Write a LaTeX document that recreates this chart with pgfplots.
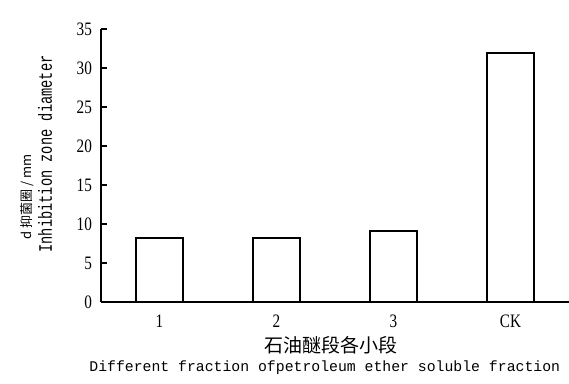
\documentclass[border=0pt]{standalone}
\usepackage{pgfplots}
\pgfplotsset{compat=1.18}
\usepackage{fontspec}
\setmainfont{Liberation Serif}
\newfontfamily\condserif[FakeStretch=0.8]{Liberation Serif}
\newfontfamily\condmono[FakeStretch=0.72]{Liberation Mono}
\newfontfamily\monof{Liberation Mono}
\newfontfamily\cjk{Noto Sans CJK SC}
\begin{document}
\begin{tikzpicture}
\path[use as bounding box] (-50.5pt,-41pt) rectangle (234pt,151pt);
\begin{axis}[
  at={(0,0)}, anchor=south west,
  scale only axis, width=234pt, height=136.5pt,
  xmin=-0.5, xmax=3.5, ymin=0, ymax=35,
  axis lines*=left,
  axis line style={-, line width=1pt},
  xtick={0,1,2,3}, xticklabels={1,2,3,CK},
  major x tick style={draw=none},
  extra x ticks={0.5,1.5,2.5,3.5}, extra x tick labels={},
  extra x tick style={major tick length=3pt, tick style={line width=0.6pt, black}},
  ytick={0,5,...,35},
  tick align=inside,
  major y tick style={line width=0.8pt, black},
  major tick length=3pt,
  /pgf/number format/assume math mode=true,
  ticklabel style={font=\condserif\fontsize{9.5}{9.5}\selectfont},
  yticklabel style={xshift=-1pt},
  ybar, bar width=23.5pt,
]
\addplot[draw=black, fill=white, line width=1pt] coordinates {(0,8.2) (1,8.2) (2,9.1) (3,31.9)};
\end{axis}
\node[font=\cjk\fontsize{6.5}{6.5}\selectfont, rotate=90] at (-37pt,52.5pt) {d 抑菌圈 / mm};
\node[font=\condmono\fontsize{9.5}{9.5}\selectfont, rotate=90] at (-28pt,74pt) {Inhibition zone diameter};
\node[font=\cjk\fontsize{9.5}{9.5}\selectfont] at (115pt,-21.5pt) {石油醚段各小段};
\node[font=\monof\fontsize{7.4}{7.4}\selectfont, anchor=west, inner sep=0pt] at (-6pt,-33pt) {Different fraction ofpetroleum ether soluble fraction};
\end{tikzpicture}
\end{document}
